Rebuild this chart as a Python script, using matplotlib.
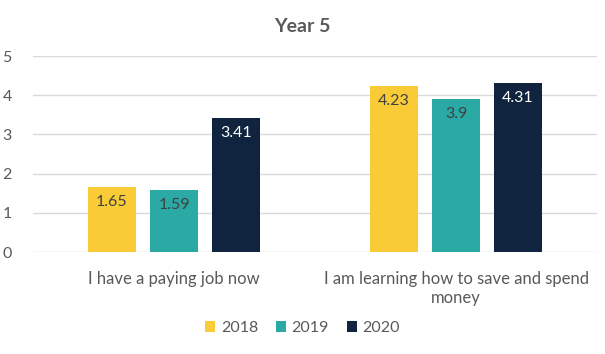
import numpy as np
import matplotlib.pyplot as plt

plt.rcParams['font.family'] = ['Lato', 'DejaVu Sans']

categories = ["I have a paying job now", "I am learning how to save and spend\nmoney"]
years = ["2018", "2019", "2020"]
values = {
    "2018": [1.65, 4.23],
    "2019": [1.59, 3.9],
    "2020": [3.41, 4.31],
}
labels = {
    "2018": ["1.65", "4.23"],
    "2019": ["1.59", "3.9"],
    "2020": ["3.41", "4.31"],
}
colors = {"2018": "#F9CB37", "2019": "#2BA9A4", "2020": "#10233F"}
text_colors = {"2018": "#404040", "2019": "#404040", "2020": "white"}

fig = plt.figure(figsize=(6.05, 3.54), dpi=100)
ax = fig.add_axes([33 / 605, 1 - 252 / 354, 564 / 605, 196 / 354])

x = np.arange(len(categories))
width = 0.17
step = 0.22

for i, yr in enumerate(years):
    pos = x + (i - 1) * step
    bars = ax.bar(pos, values[yr], width, color=colors[yr], label=yr, zorder=3)
    for b, lab in zip(bars, labels[yr]):
        ax.annotate(lab, (b.get_x() + b.get_width() / 2, b.get_height()),
                    xytext=(0, -15), textcoords='offset pixels',
                    ha='center', va='center', fontsize=11.5,
                    color=text_colors[yr], zorder=4)

ax.set_xlim(-0.5, 1.5)
ax.set_ylim(0, 5)
ax.set_yticks(range(6))
ax.set_xticks(x)
ax.set_xticklabels(categories, multialignment='center', fontsize=12)
ax.tick_params(axis='both', length=0, labelcolor='#595959')
ax.tick_params(axis='y', labelsize=11.5, pad=22)
ax.tick_params(axis='x', pad=14)
for lbl in ax.get_yticklabels():
    lbl.set_horizontalalignment('left')
ax.grid(axis='y', color='#D9D9D9', linewidth=1, zorder=0)
for s in ax.spines.values():
    s.set_visible(False)

fig.text(0.5, 1 - 27 / 354, "Year 5", ha='center', va='center',
         fontsize=14, fontweight='bold', color='#595959')

fig.legend(loc='center', bbox_to_anchor=(0.5, 1 - 328 / 354), ncol=3,
           frameon=False, fontsize=11.5, handlelength=0.65, handleheight=0.65,
           handletextpad=0.35, columnspacing=1.1, labelcolor='#595959')

fig.savefig("out.png", dpi=100)
